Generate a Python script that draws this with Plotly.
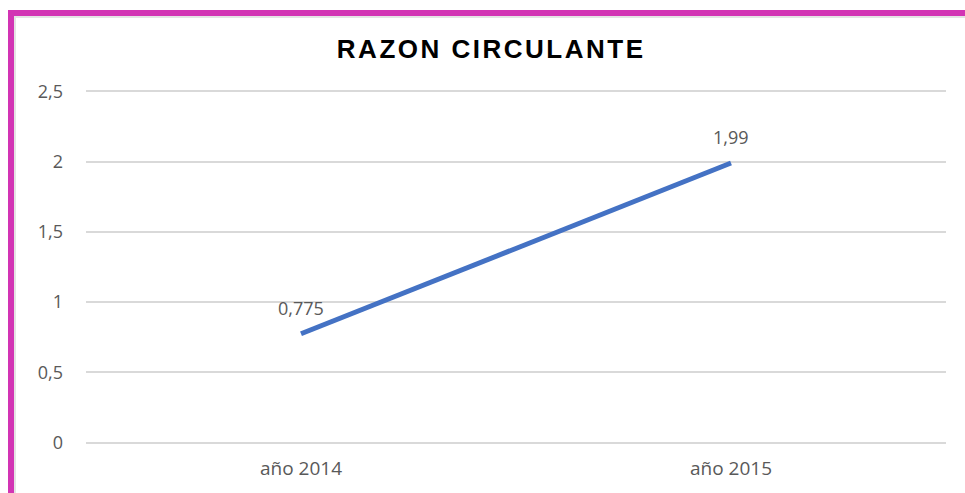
import plotly.graph_objects as go

categories = ["año 2014", "año 2015"]
values = [0.775, 1.99]
value_labels = ["0,775", "1,99"]

W, H = 965, 493
L, R, T, B = 86, 19, 90, 49
pw, ph = W - L - R, H - T - B

def px(x):
    return (x - L) / pw

def py(y):
    return (H - B - y) / ph

fig = go.Figure()
fig.add_trace(go.Scatter(
    x=categories, y=values, mode="lines",
    line=dict(color="#4472C4", width=5),
    hoverinfo="skip", showlegend=False,
))
for c, v, t in zip(categories, values, value_labels):
    fig.add_annotation(x=c, y=v, text=t, showarrow=False, yshift=26,
                       font=dict(family="Open Sans, Liberation Sans", size=18, color="#595959"))

fig.update_layout(
    width=W, height=H,
    margin=dict(l=L, r=R, t=T, b=B),
    paper_bgcolor="white", plot_bgcolor="white",
    separators=",.",
    title=dict(text="<b>RAZON CIRCULANTE</b>", x=0.509, xanchor="center", y=1 - 49 / H, yanchor="middle",
               font=dict(family="Liberation Sans, Arial", size=26, color="#000000")),
    xaxis=dict(type="category", range=[-0.5, 1.5], showgrid=False, zeroline=False,
               showline=False, ticks="", ticklabelstandoff=11,
               tickfont=dict(family="Open Sans, Liberation Sans", size=19, color="#595959")),
    yaxis=dict(range=[-0.01, 2.51], tickvals=[0, 0.5, 1, 1.5, 2, 2.5], showgrid=True,
               gridcolor="#D9D9D9", gridwidth=1.5,
               zeroline=False, showline=False, ticks="", ticklabelstandoff=22,
               tickfont=dict(family="Open Sans, Liberation Sans", size=18, color="#595959")),
)

border = "#D234B4"
shadow = "#E4E4E4"
fig.add_shape(type="rect", xref="paper", yref="paper", layer="below",
              x0=px(8), x1=px(965), y0=py(18), y1=py(15), fillcolor=shadow, line_width=0)
fig.add_shape(type="rect", xref="paper", yref="paper", layer="below",
              x0=px(13), x1=px(16), y0=py(493), y1=py(10), fillcolor=shadow, line_width=0)
fig.add_shape(type="rect", xref="paper", yref="paper",
              x0=px(8), x1=px(965), y0=py(16), y1=py(10), fillcolor=border, line_width=0)
fig.add_shape(type="rect", xref="paper", yref="paper",
              x0=px(8), x1=px(14), y0=py(493), y1=py(10), fillcolor=border, line_width=0)

post = """
document.body.style.margin = '0';
document.body.style.overflow = 'hidden';
var t = document.querySelector('.gtitle');
if (t) { t.style.letterSpacing = '2.5px'; }
"""
fig.write_html("out.html", post_script=post, config={"displayModeBar": False})
